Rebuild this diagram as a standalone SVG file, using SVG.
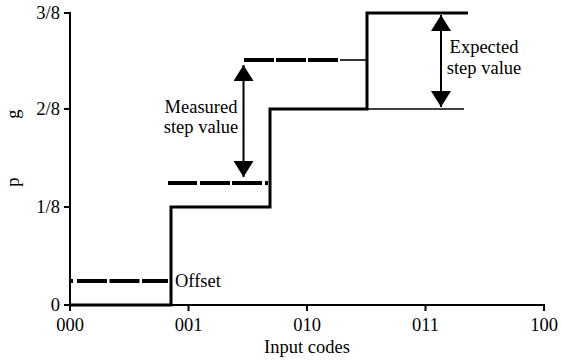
<svg xmlns="http://www.w3.org/2000/svg" width="561" height="360" viewBox="0 0 561 360">
<style>
text{font-family:"Liberation Serif","Times New Roman",serif;font-size:18.5px;fill:#000}
.axis{stroke:#000;stroke-width:2;fill:none}
.stair{stroke:#000;stroke-width:3;fill:none}
.thin{stroke:#000;stroke-width:1.6;fill:none}
.dash{stroke:#000;stroke-width:4;fill:none}
.arr{stroke:#000;stroke-width:2;fill:none;marker-start:url(#ah);marker-end:url(#ah)}
</style>
<defs>
<marker id="ah" markerUnits="userSpaceOnUse" markerWidth="16" markerHeight="20" refX="16" refY="10" orient="auto-start-reverse" viewBox="0 0 16 20">
<path d="M0,0 L16,10 L0,20 Z" fill="#000"/>
</marker>
</defs>
<g id="axes">
<path class="axis" d="M70,12 V305 H545"/>
<path class="axis" d="M64,13 H70 M64,109 H70 M64,207 H70 M64,305 H70"/>
<path class="axis" d="M70,305 V311 M188.5,305 V311 M307,305 V311 M425.5,305 V311 M544,305 V311"/>
<text x="60" y="19" text-anchor="end">3/8</text>
<text x="60" y="115" text-anchor="end">2/8</text>
<text x="60" y="213" text-anchor="end">1/8</text>
<text x="60" y="311" text-anchor="end">0</text>
<text x="70" y="331" text-anchor="middle">000</text>
<text x="188.5" y="331" text-anchor="middle">001</text>
<text x="307" y="331" text-anchor="middle">010</text>
<text x="425.5" y="331" text-anchor="middle">011</text>
<text x="544" y="331" text-anchor="middle">100</text>
<text x="307" y="353" text-anchor="middle">Input codes</text>
<text transform="translate(19,182) rotate(-90)" text-anchor="middle">p</text>
<text transform="translate(19,114) rotate(-90)" text-anchor="middle">g</text>
</g>
<g id="expected-staircase">
<path class="stair" d="M70,305 H171 V207 H270 V109 H367 V13 H468"/>
<path class="thin" d="M367,109 H464"/>
</g>
<g id="measured-staircase">
<path class="dash" d="M70,281 H168" stroke-dasharray="3 4 30 2.5 30 2.5 30"/>
<path class="dash" d="M168,183 H268" stroke-dasharray="29 3 30 2 30 3 3"/>
<path class="dash" d="M244,60 H338" stroke-dasharray="30 2 30 2 30"/>
<path class="thin" d="M340,60 H367"/>
</g>
<g id="connectors">
<path class="arr" d="M243.5,65 V177"/>
<path class="arr" d="M441,15 V107"/>
</g>
<g id="labels">
<text x="201" y="113" text-anchor="middle">Measured</text>
<text x="201" y="133" text-anchor="middle">step value</text>
<text x="484" y="53" text-anchor="middle">Expected</text>
<text x="484" y="74" text-anchor="middle">step value</text>
<text x="175" y="287">Offset</text>
</g>
</svg>
